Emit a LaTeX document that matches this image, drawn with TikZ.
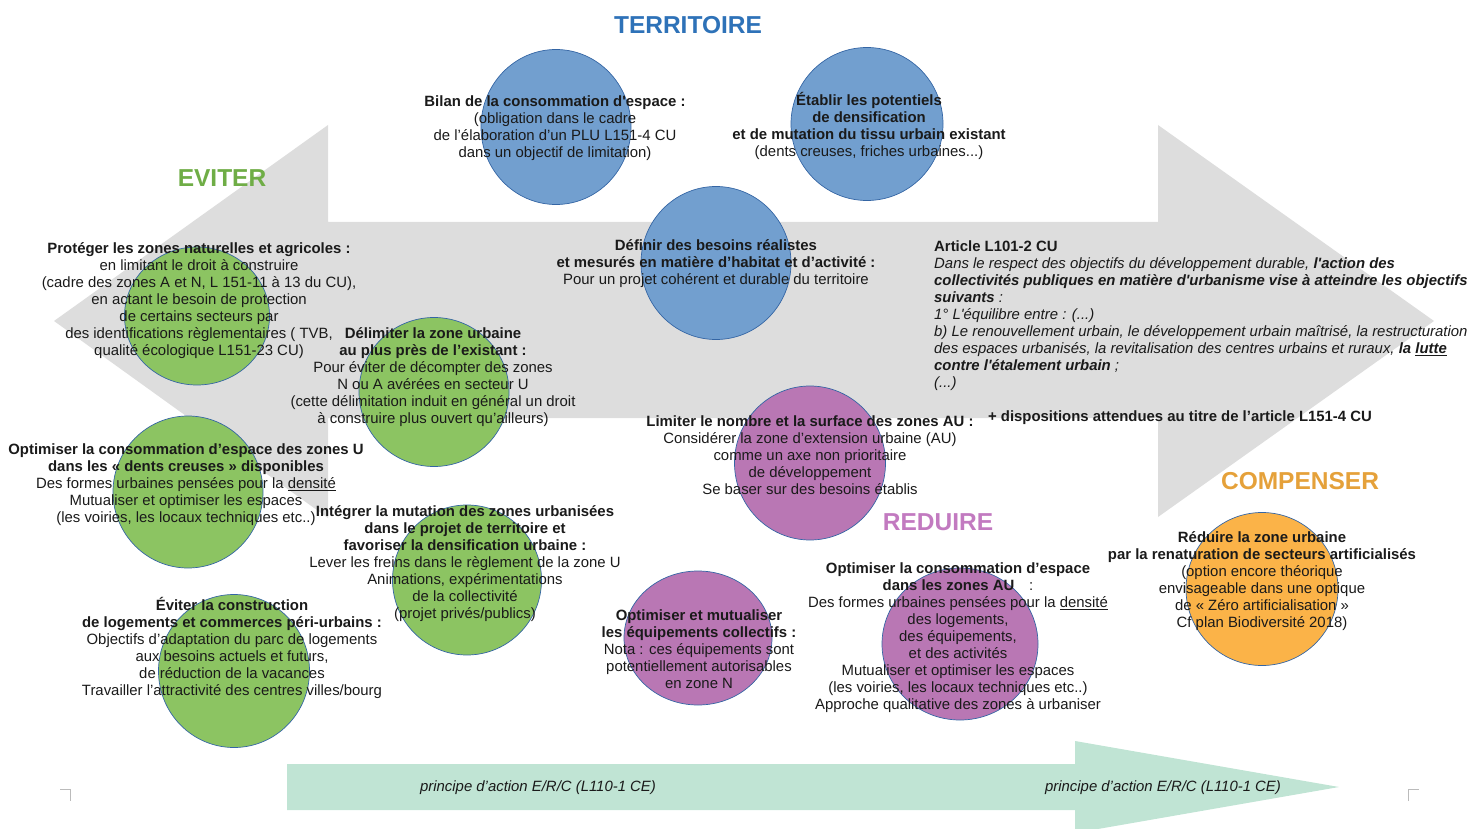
\documentclass[tikz,border=0pt]{standalone}
\usepackage{fontspec}
\setmainfont{Liberation Sans}
\usetikzlibrary{shapes.geometric}

\definecolor{arrowgray}{HTML}{DDDDDD}
\definecolor{mint}{HTML}{C0E4D4}
\definecolor{blobline}{HTML}{3465A4}
\definecolor{blobblue}{HTML}{729FCF}
\definecolor{blobgreen}{HTML}{8CC462}
\definecolor{blobpurple}{HTML}{B977B4}
\definecolor{bloborange}{HTML}{FBB348}
\definecolor{ttlblue}{HTML}{2E72B8}
\definecolor{ttlgreen}{HTML}{6FAD46}
\definecolor{ttlpurple}{HTML}{C27AC0}
\definecolor{ttlorange}{HTML}{E5A13A}
\definecolor{ink}{HTML}{1A1A1A}
\definecolor{cornermark}{HTML}{BBBBBB}

\newcommand\bodyfont{\fontsize{14.9}{17}\selectfont}
\newcommand\titlefont{\fontsize{24.5}{28}\selectfont\bfseries}

\tikzset{
  blob/.style={ellipse, draw=blobline, line width=0.7pt, inner sep=0pt},
  blueblob/.style={blob, fill=blobblue},
  greenblob/.style={blob, fill=blobgreen},
  purpleblob/.style={blob, fill=blobpurple},
  orangeblob/.style={blob, fill=bloborange},
  txt/.style={align=center, font=\bodyfont, inner sep=0pt, text=ink},
  heading/.style={font=\titlefont, inner sep=0pt},
  arrowtxt/.style={font=\bodyfont\itshape, inner sep=0pt, text=ink},
}

\begin{document}
\begin{tikzpicture}[x=1pt,y=-1pt]
\useasboundingbox (0,0) rectangle (1472,829);

% big grey double-headed arrow
\fill[arrowgray] (54,321) -- (328,125) -- (328,222) -- (1158,222) -- (1158,125)
  -- (1434,321) -- (1158,517) -- (1158,418) -- (328,418) -- (328,518) -- cycle;

% bottom mint arrow
\begin{scope}
\clip (0,0) rectangle (1472,829);
\fill[mint] (287,764) -- (1075,764) -- (1075,741) -- (1339,787) -- (1075,833)
  -- (1075,810) -- (287,810) -- cycle;
\end{scope}

% corner marks
\draw[cornermark, line width=0.8pt] (60,789) -- (70,789) -- (70,801);
\draw[cornermark, line width=0.8pt] (1408,801) -- (1408,789) -- (1419,789);

% circles
\node[blueblob, minimum width=150, minimum height=155] (c-bilan) at (556,127) {};
\node[blueblob, minimum width=152, minimum height=153] (c-etablir) at (867,124) {};
\node[blueblob, minimum width=150, minimum height=153] (c-definir) at (716,263) {};

\node[greenblob, minimum width=145, minimum height=138] (c-proteger) at (197,316) {};
\node[greenblob, minimum width=150, minimum height=149] (c-delimiter) at (434,392) {};
\node[greenblob, minimum width=150, minimum height=152] (c-optu) at (188,492) {};
\node[greenblob, minimum width=149, minimum height=150] (c-integrer) at (467,580) {};
\node[greenblob, minimum width=151, minimum height=153] (c-eviter) at (234,671) {};

\node[purpleblob, minimum width=151, minimum height=154] (c-limiter) at (810,463) {};
\node[purpleblob, minimum width=148, minimum height=134] (c-equip) at (698,638) {};
\node[purpleblob, minimum width=156, minimum height=152] (c-optau) at (960,644) {};

\node[orangeblob, minimum width=152, minimum height=153] (c-reduire) at (1262,589) {};

% headings
\node[heading, text=ttlblue] (h-territoire) at (688,25) {TERRITOIRE};
\node[heading, text=ttlgreen] (h-eviter) at (222,178) {EVITER};
\node[heading, text=ttlpurple] (h-reduire) at (938,522) {REDUIRE};
\node[heading, text=ttlorange] (h-compenser) at (1300,481) {COMPENSER};

% texts
\node[txt] (t-bilan) at (555,128.5) {\textbf{Bilan de la consommation d\textquotesingle espace :}\\(obligation dans le cadre\\de l’élaboration d’un PLU L151-4 CU\\dans un objectif de limitation)};

\node[txt] (t-etablir) at (869,126) {\textbf{Établir les potentiels}\\\textbf{de densification}\\\textbf{et de mutation du tissu urbain existant}\\(dents creuses, friches urbaines...)};

\node[txt] (t-definir) at (716,264) {\textbf{Définir des besoins réalistes}\\\textbf{et mesurés en matière d’habitat et d’activité :}\\Pour un projet cohérent et durable du territoire};

\node[txt] (t-proteger) at (199,301) {\textbf{Protéger les zones naturelles et agricoles :}\\en limitant le droit à construire\\(cadre des zones A et N, L 151-11 à 13 du CU),\\en actant le besoin de protection\\de certains secteurs par\\des identifications règlementaires ( TVB,\\qualité écologique L151-23 CU)};

\node[txt] (t-delimiter) at (433,377.5) {\textbf{Délimiter la zone urbaine}\\\textbf{au plus près de l’existant :}\\Pour éviter de décompter des zones\\N ou A avérées en secteur U\\(cette délimitation induit en général un droit\\à construire plus ouvert qu’ailleurs)};

\node[txt] (t-optu) at (186,485) {\textbf{Optimiser la consommation d’espace des zones U}\\\textbf{dans les «~dents creuses~» disponibles}\\Des formes urbaines pensées pour la \underline{densité}\\Mutualiser et optimiser les espaces\\(les voiries, les locaux techniques etc..)};

\node[txt] (t-integrer) at (465,564) {\textbf{Intégrer la mutation des zones urbanisées}\\\textbf{dans le projet de territoire et}\\\textbf{favoriser la densification urbaine :}\\Lever les freins dans le règlement de la zone U\\Animations, expérimentations\\de la collectivité\\(projet privés/publics)};

\node[txt] (t-eviter) at (232,647.5) {\textbf{Éviter la construction}\\\textbf{de logements et commerces péri-urbains :}\\Objectifs d’adaptation du parc de logements\\aux besoins actuels et futurs,\\de réduction de la vacances\\Travailler l’attractivité des centres villes/bourg};

\node[txt] (t-limiter) at (810,455) {\textbf{Limiter le nombre et la surface des zones AU :}\\Considérer la zone d’extension urbaine (AU)\\comme un axe non prioritaire\\de développement\\Se baser sur des besoins établis};

\node[txt] (t-equip) at (699,649.5) {\textbf{Optimiser et mutualiser}\\\textbf{les équipements collectifs :}\\Nota : ces équipements sont\\potentiellement autorisables\\en zone N};

\node[txt] (t-optau) at (958,637.5) {\textbf{Optimiser la consommation d’espace}\\\textbf{dans les zones AU}\quad :\\Des formes urbaines pensées pour la \underline{densité}\\des logements,\\des équipements,\\et des activités\\Mutualiser et optimiser les espaces\\(les voiries, les locaux techniques etc..)\\Approche qualitative des zones à urbaniser};

\node[txt] (t-reduire) at (1262,581.5) {\textbf{Réduire la zone urbaine}\\\textbf{par la renaturation de secteurs artificialisés}\\(option encore théorique\\envisageable dans une optique\\de «~Zéro artificialisation~»\\Cf plan Biodiversité 2018)};

\node[txt, align=left, anchor=west] (t-article) at (934,315.5) {\textbf{Article L101-2 CU}\\
\textit{Dans le respect des objectifs du développement durable, \textbf{l\textquotesingle action des}}\\
\textit{\textbf{collectivités publiques en matière d\textquotesingle urbanisme vise à atteindre les objectifs}}\\
\textit{\textbf{suivants} :}\\
\textit{1° L\textquotesingle équilibre entre : (...)}\\
\textit{b) Le renouvellement urbain, le développement urbain maîtrisé, la restructuration}\\
\textit{des espaces urbanisés, la revitalisation des centres urbains et ruraux, \textbf{la \underline{lutte}}}\\
\textit{\textbf{contre l\textquotesingle étalement urbain} ;}\\
\textit{(...)}};

\node[txt] (t-plus) at (1180,418) {\textbf{+ dispositions attendues au titre de l’article L151-4 CU}};

% labels on the bottom arrow
\node[arrowtxt] (a-left) at (538,788) {principe d’action E/R/C (L110-1 CE)};
\node[arrowtxt] (a-right) at (1163,788) {principe d’action E/R/C (L110-1 CE)};
\end{tikzpicture}
\end{document}
